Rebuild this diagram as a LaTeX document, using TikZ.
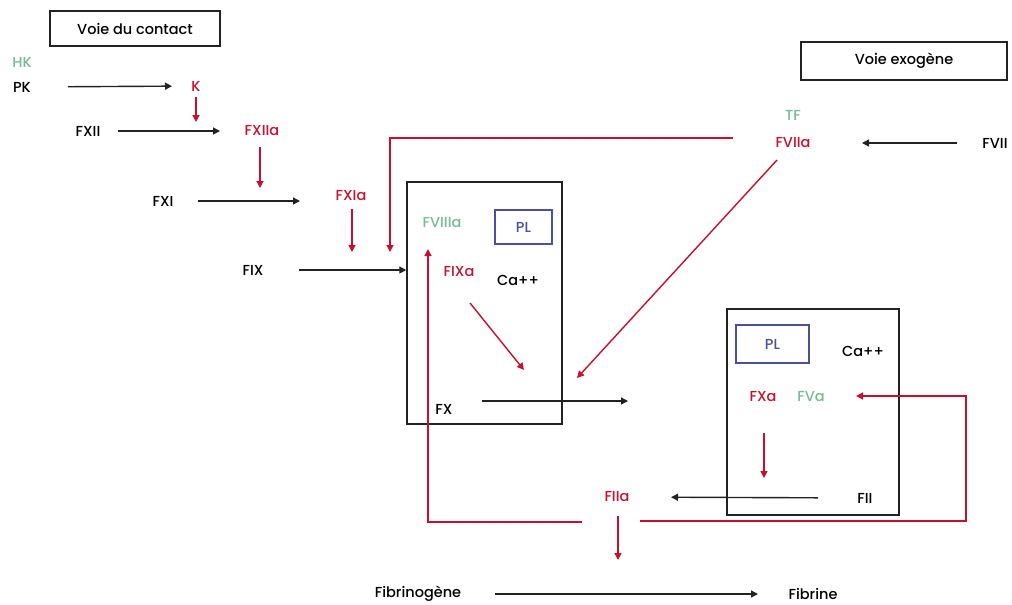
\documentclass[tikz,border=0pt]{standalone}
\usepackage{fontspec}
\setmainfont{Poppins Medium}
\usetikzlibrary{arrows.meta}
\definecolor{fred}{HTML}{C8102E}
\definecolor{fgreen}{HTML}{74BC94}
\definecolor{fblue}{HTML}{4B4FA0}
\definecolor{fgray}{HTML}{222222}
\tikzset{
  lbl/.style={font=\fontsize{14.5}{16}\selectfont, inner sep=0pt, anchor=center},
  rlbl/.style={lbl, text=fred},
  glbl/.style={lbl, text=fgreen},
  tip/.style={-{Triangle[length=7pt,width=7pt]}},
  arr/.style={tip, line width=1.4pt, draw=fgray},
  rarr/.style={tip, line width=1.4pt, draw=fred},
  frame/.style={draw=fgray, line width=1.5pt},
  plbox/.style={draw=fblue, line width=1.4pt, text=fblue, font=\fontsize{14.5}{16}\selectfont},
}
\begin{document}
\begin{tikzpicture}[x=1pt,y=-1pt]
\useasboundingbox (0,0) rectangle (1012,605);
% titles
\node[frame, lbl, minimum width=170pt, minimum height=35pt] (vc) at (135,28.5) {Voie du contact};
\node[frame, lbl, minimum width=206pt, minimum height=38pt] (ve) at (904,61) {Voie exogène};
% contact pathway
\node[glbl] (HK) at (22,62) {HK};
\node[lbl] (PK) at (22,87) {PK};
\node[rlbl] (K) at (196,86) {K};
\node[lbl] (FXII) at (88,131) {FXII};
\node[rlbl] (FXIIa) at (262,131) {FXIIa};
\node[lbl] (FXI) at (163,201) {FXI};
\node[rlbl] (FXIa) at (351,196) {FXIa};
\node[lbl] (FIX) at (253,270) {FIX};
\draw[arr, shorten <=46pt, shorten >=24pt] (PK.center) -- (K.center);
\draw[rarr, shorten <=11pt, shorten >=9pt] (K.center) -- (K.center |- FXII.center);
\draw[arr, shorten <=30pt, shorten >=42pt] (FXII.center) -- (FXIIa.center);
\coordinate (a1) at (260,188);
\draw[rarr] ([shift={(-2,16)}]FXIIa.center) -- (a1);
\draw[arr, shorten <=35pt, shorten >=51pt] (FXI.center) -- (FXI.center -| FXIa.center);
\coordinate (a2) at (352,252);
\draw[rarr] ([shift={(1,13)}]FXIa.center) -- (a2);
% box 1
\node[frame, minimum width=155pt, minimum height=242pt, inner sep=0pt] (box1) at (484.5,303) {};
\draw[arr, shorten <=46pt] (FIX.center) -- (box1.west |- FIX.center);
\node[glbl] (FVIIIa) at (442,223) {FVIIIa};
\node[plbox, minimum width=57pt, minimum height=34pt, inner sep=0pt] (PL1) at (523.5,227) {PL};
\node[rlbl] (FIXa) at (459,272) {FIXa};
\node[lbl] (Ca1) at (518,280) {Ca++};
\node[lbl] (FX) at (444,409) {FX};
\coordinate (a3) at (524,370);
\draw[rarr] ([shift={(11,31)}]FIXa.center) -- (a3);
\coordinate (fxend) at (628,401);
\draw[arr] ([shift={(38,-8)}]FX.center) -- (fxend);
% exogenous pathway
\node[glbl] (TF) at (793,115) {TF};
\node[rlbl] (FVIIa) at (793,143) {FVIIa};
\node[lbl] (FVII) at (995,143) {FVII};
\draw[arr, shorten <=38pt, shorten >=69pt] (FVII.center) -- (FVIIa.center);
\coordinate (r1a) at (733,138);
\coordinate (r1b) at (390,252);
\draw[rarr] (r1a) -| (r1b);
\coordinate (a4) at (577,378);
\draw[rarr] ([shift={(-16,17)}]FVIIa.center) -- (a4);
% box 2
\node[frame, minimum width=172pt, minimum height=206pt, inner sep=0pt] (box2) at (813,412) {};
\node[plbox, minimum width=73pt, minimum height=38pt, inner sep=0pt] (PL2) at (772.5,344) {PL};
\node[lbl] (Ca2) at (863,351) {Ca++};
\node[rlbl] (FXa) at (763,397) {FXa};
\node[glbl] (FVa) at (811,397) {FVa};
\node[lbl] (FII) at (865,498) {FII};
\coordinate (a5) at (764,478);
\draw[rarr] ([shift={(1,36)}]FXa.center) -- (a5);
\node[rlbl] (FIIa) at (617,497) {FIIa};
\draw[arr, shorten <=47pt, shorten >=54pt] (FII.center) -- (FIIa.center);
% feedback from FIIa
\coordinate (fl1) at (582,522);
\coordinate (fl2) at (428,249);
\draw[rarr] (fl1) -| (fl2);
\coordinate (fr1) at (640,521);
\coordinate (fr2) at (966,396);
\coordinate (fr3) at (856,396);
\draw[rarr] (fr1) -| (fr2) -- (fr3);
% fibrin
\node[lbl] (Fbg) at (418,594) {Fibrinogène};
\node[lbl] (Fbr) at (813,594) {Fibrine};
\coordinate (a6) at (618,560);
\draw[rarr] ([shift={(1,19)}]FIIa.center) -- (a6);
\draw[arr, shorten <=77pt, shorten >=55pt] (Fbg.center) -- (Fbr.center);
\end{tikzpicture}
\end{document}
